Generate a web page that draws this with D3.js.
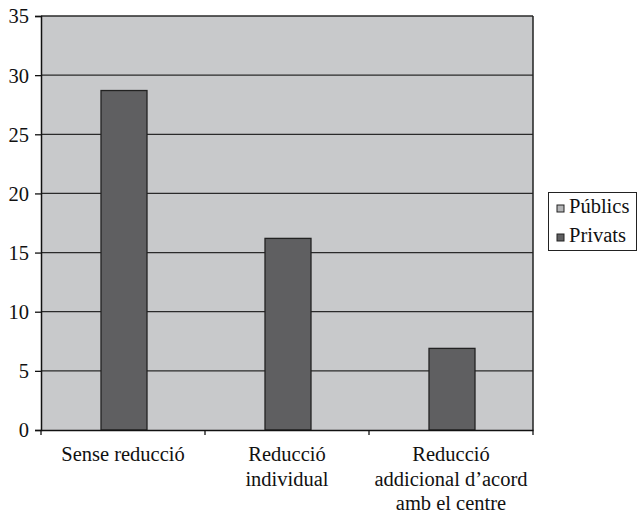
<!DOCTYPE html>
<html>
<head>
<meta charset="utf-8">
<script src="https://cdn.jsdelivr.net/npm/d3@7"></script>
</head>
<body style="margin:0">
<svg id="chart" width="638" height="514"></svg>
<script>
const categories = [["Sense reducció"], ["Reducció", "individual"], ["Reducció", "addicional d\u2019acord", "amb el centre"]];
const categoryKeys = ["Sense reducció", "Reducció individual", "Reducció addicional d'acord amb el centre"];
const publics = [0, 0, 0];
const privats = [28.7, 16.2, 6.9];
const seriesNames = ["Públics", "Privats"];
const seriesColors = ["#b4b5b7", "#5f5f61"];
const yTicks = [0, 5, 10, 15, 20, 25, 30, 35];

const svg = d3.select("#chart").style("display", "block");
const m = {left: 41, top: 16, right: 533, bottom: 430};
const fsz = 20.5;
const ff = "'Liberation Serif', monospace";

const x = d3.scaleBand().domain(categoryKeys).range([m.left, m.right]).paddingInner(0).paddingOuter(0);
const y = d3.scaleLinear().domain([0, 35]).range([m.bottom, m.top]);

function serif(sel) {
  return sel.style("font-family", ff, "important").style("font-size", fsz + "px", "important");
}

// plot background
svg.append("rect").attr("x", m.left).attr("y", m.top)
  .attr("width", m.right - m.left).attr("height", m.bottom - m.top)
  .attr("fill", "#c8c9cb");

// gridlines
svg.append("g").selectAll("line").data(yTicks.filter(d => d > 0)).join("line")
  .attr("x1", m.left).attr("x2", m.right)
  .attr("y1", d => y(d)).attr("y2", d => y(d))
  .attr("stroke", "#2a2a2a").attr("stroke-width", 1.3);

// bars (Públics zero, Privats)
const barW = x.bandwidth() * 46 / 164;
const data = categoryKeys.map((k, i) => ({k, pub: publics[i], priv: privats[i]}));
svg.append("g").selectAll("rect").data(data).join("rect")
  .attr("x", d => x(d.k) + x.bandwidth() / 2 - barW / 2 + 1)
  .attr("y", d => y(d.pub)).attr("width", barW)
  .attr("height", d => y(0) - y(d.pub))
  .attr("fill", seriesColors[0]).attr("stroke", d => d.pub > 0 ? "#222" : "none");
svg.append("g").selectAll("rect").data(data).join("rect")
  .attr("x", d => x(d.k) + x.bandwidth() / 2 - barW / 2 + 1)
  .attr("y", d => y(d.priv)).attr("width", barW)
  .attr("height", d => y(0) - y(d.priv))
  .attr("fill", seriesColors[1]).attr("stroke", "#222").attr("stroke-width", 1.3);

// right border
svg.append("line").attr("x1", m.right).attr("x2", m.right).attr("y1", m.top).attr("y2", m.bottom)
  .attr("stroke", "#222").attr("stroke-width", 1.5);

// y axis
const yAxis = svg.append("g").attr("transform", `translate(${m.left},0)`)
  .call(d3.axisLeft(y).tickValues(yTicks).tickSize(6).tickPadding(6));
yAxis.attr("font-family", "Liberation Serif").attr("font-size", fsz);
yAxis.select(".domain").attr("stroke", "#111").attr("stroke-width", 1.5);
yAxis.selectAll(".tick line").attr("stroke", "#111").attr("stroke-width", 1.3);
serif(yAxis.selectAll(".tick text")).attr("fill", "#111").attr("dy", "0.34em");

// x axis
const xAxis = svg.append("g").attr("transform", `translate(0,${m.bottom})`)
  .call(d3.axisBottom(x).tickSize(0).tickFormat(""));
xAxis.select(".domain").attr("stroke", "#111").attr("stroke-width", 1.5);
const bounds = [m.left, ...categoryKeys.map(k => x(k) + x.bandwidth())];
xAxis.append("g").selectAll("line").data(bounds).join("line")
  .attr("x1", d => d).attr("x2", d => d).attr("y1", 0).attr("y2", 5)
  .attr("stroke", "#111").attr("stroke-width", 1.3);

// category labels
const labData = [];
categories.forEach((lines, i) => lines.forEach((t, j) => labData.push({i, j, t})));
serif(svg.append("g").attr("font-family", "Liberation Serif").selectAll("text").data(labData).join("text")
  .attr("x", d => x(categoryKeys[d.i]) + x.bandwidth() / 2)
  .attr("y", d => 461 + d.j * 24.5)
  .attr("text-anchor", "middle").attr("fill", "#111"))
  .text(d => d.t);

// legend
const lg = svg.append("g").attr("font-family", "Liberation Serif");
lg.append("rect").attr("x", 548.5).attr("y", 192.5).attr("width", 88).attr("height", 58)
  .attr("fill", "#fff").attr("stroke", "#222").attr("stroke-width", 1);
lg.selectAll("rect.sw").data(seriesNames).join("rect").attr("class", "sw")
  .attr("x", 557).attr("y", (d, i) => 205 + i * 29).attr("width", 7).attr("height", 7)
  .attr("fill", (d, i) => seriesColors[i]).attr("stroke", "#222").attr("stroke-width", 1);
serif(lg.selectAll("text").data(seriesNames).join("text")
  .attr("x", 569).attr("y", (d, i) => 213 + i * 29).attr("fill", "#111"))
  .text(d => d);
</script>
</body>
</html>
